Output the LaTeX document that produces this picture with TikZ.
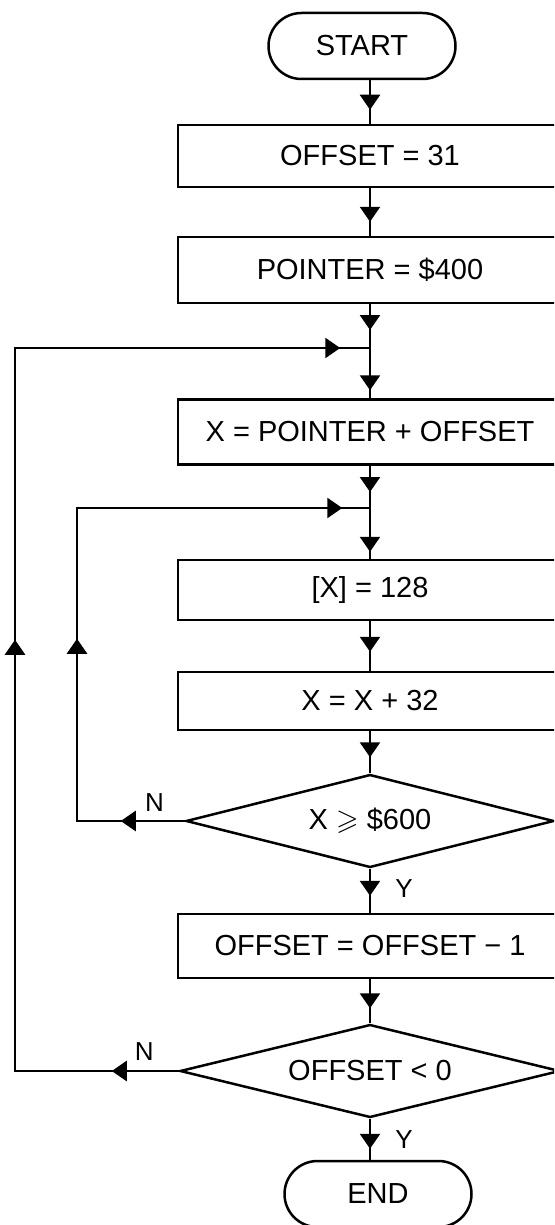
\documentclass[tikz,border=0pt]{standalone}
\usepackage{fontspec}
\usepackage{amssymb}
\setmainfont{Liberation Sans}
\usetikzlibrary{arrows.meta,shapes.geometric,shapes.misc,decorations.markings}
\begin{document}
\begin{tikzpicture}[x=1pt,y=-1pt,
  every node/.style={font=\fontsize{29}{34}\selectfont},
  ln/.style={line width=2.5pt, draw=black, line join=miter},
  procbox/.style={ln, rectangle, minimum width=384pt, inner sep=0pt},
  decision/.style={ln, diamond, inner sep=0pt},
  term/.style={ln, rounded rectangle, minimum width=187pt, minimum height=66pt, inner sep=0pt},
  lab/.style={font=\fontsize{26}{30}\selectfont, inner sep=0pt},
  arrat/.style={postaction={decorate, decoration={markings,
      mark=at position #1 with {\arrow{Triangle[width=20pt,length=15pt]}}}}}
]
\useasboundingbox (0,0) rectangle (554,1225);
\clip (0,0) rectangle (554,1225);

\node[term] (start) at (362,46) {START};
\node[procbox, minimum height=62pt] (b1) at (370,156) {OFFSET = 31};
\node[procbox, minimum height=66pt] (b2) at (370,270) {POINTER = \$400};
\coordinate (J1) at (370,348);
\node[procbox, minimum height=65pt] (b3) at (370,432) {X = POINTER + OFFSET};
\coordinate (J2) at (370,508);
\node[procbox, minimum height=60pt] (b4) at (370,590) {[X] = 128};
\node[procbox, minimum height=58pt] (b5) at (370,701) {X = X + 32};
\node[decision, shape aspect=3.96, minimum width=368pt, minimum height=93pt] (d1) at (370,821) {X $\geqslant$ \$600};
\node[procbox, minimum height=64pt] (b6) at (370,946) {OFFSET = OFFSET − 1};
\node[decision, shape aspect=4.08, minimum width=380pt, minimum height=93pt] (d2) at (370,1071) {OFFSET < 0};
\node[term] (end) at (378,1194) {END};
\coordinate (c1) at (77,821);
\coordinate (c2) at (77,508);
\coordinate (c3) at (15,1071);
\coordinate (c4) at (15,348);

\draw[ln, arrat=-14pt] (start.south -| b1.north) -- (b1.north);
\draw[ln, arrat=-14pt] (b1) -- (b2);
\draw[ln, arrat=-18pt] (b2) -- (J1);
\draw[ln, arrat=-8pt] (J1) -- (b3);
\draw[ln, arrat=-16pt] (b3) -- (J2);
\draw[ln, arrat=-7pt] (J2) -- (b4);
\draw[ln, arrat=-19pt] (b4) -- (b5);
\draw[ln, arrat=-16pt] (b5) -- (d1);
\draw[ln, arrat=-17pt] (d1) -- node[lab, pos=0.45, right=24pt] {Y} (b6);
\draw[ln, arrat=-15pt] (b6) -- (d2);
\draw[ln, arrat=-11pt] (d2.south) -- node[lab, pos=0.5, right=24pt] {Y} (d2.south |- end.north);

\draw[ln, arrat=64pt, arrat=290pt, arrat=686pt]
  (d1.west) -- node[lab, pos=0.28, above=8pt] {N} (c1) -- (c2) -- (J2);
\draw[ln, arrat=67pt, arrat=595pt, arrat=1212pt]
  (d2.west) -- node[lab, pos=0.21, above=9pt] {N} (c3) -- (c4) -- (J1);
\end{tikzpicture}
\end{document}
